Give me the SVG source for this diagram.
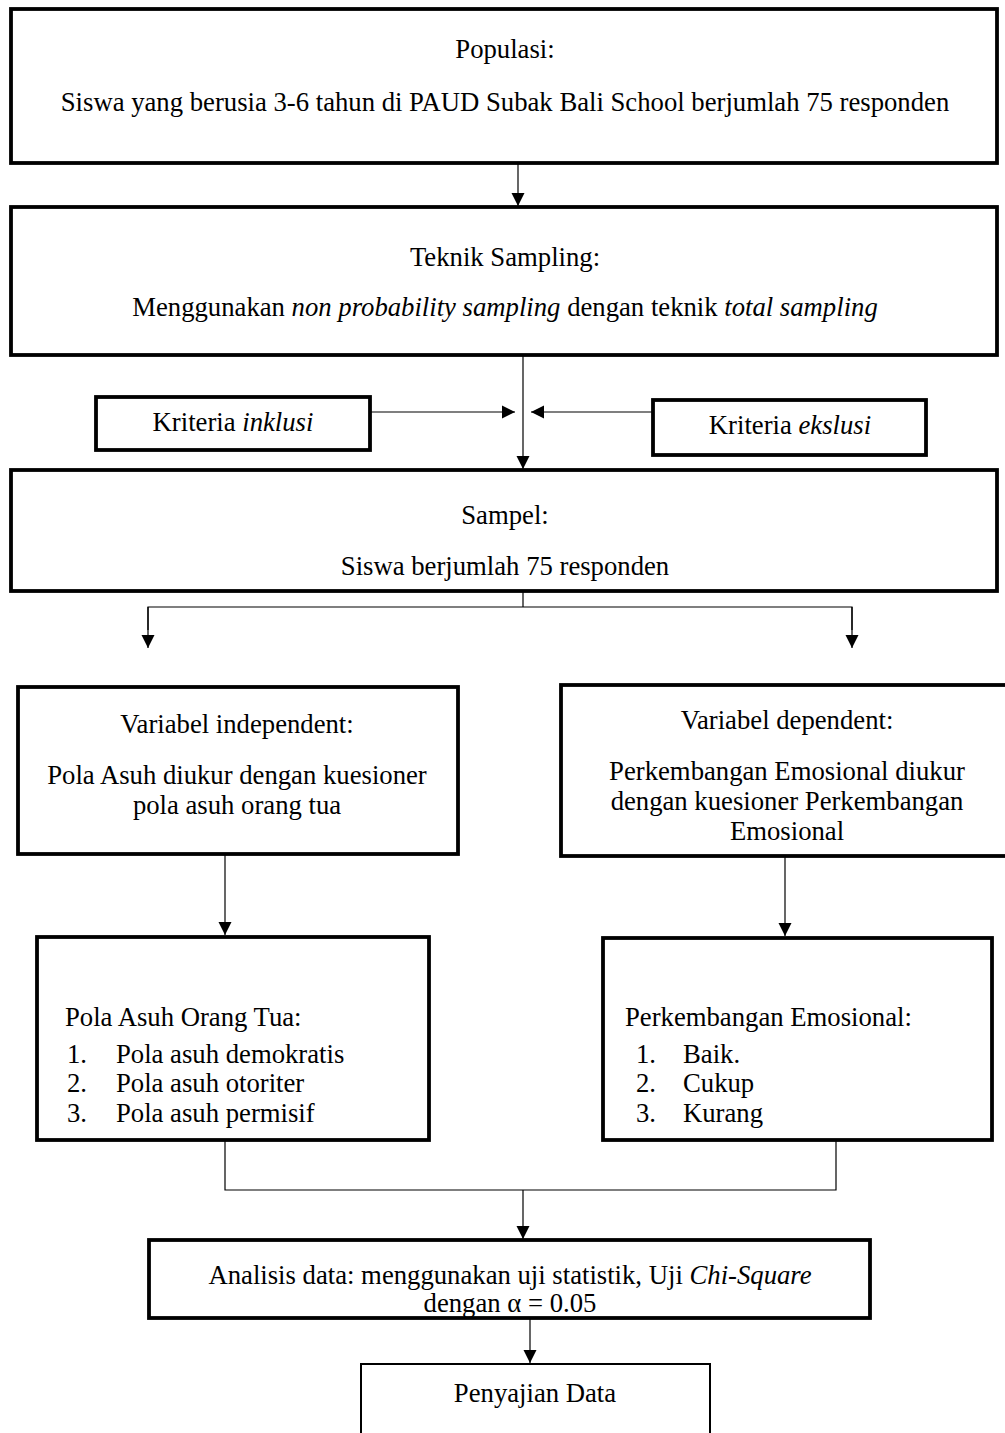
<svg xmlns="http://www.w3.org/2000/svg" width="1005" height="1433" viewBox="0 0 1005 1433">
<defs>
<style>
.box{fill:#fff;stroke:#000;stroke-width:3.8}
.thin{fill:#fff;stroke:#000;stroke-width:2}
.t{font-family:"Liberation Serif","Times New Roman",serif;font-size:26.7px;fill:#000}
.c{text-anchor:middle}
.ln{fill:none;stroke:#000;stroke-width:1.2}
.arr{fill:none;stroke:#000;stroke-width:1.2;marker-end:url(#ah)}
</style>
<marker id="ah" viewBox="0 0 10 10" refX="10" refY="5" markerUnits="userSpaceOnUse" markerWidth="13" markerHeight="14" orient="auto">
<path d="M0,0 L10,5 L0,10 Z" fill="#000"/>
</marker>
</defs>
<rect width="1005" height="1433" fill="#fff"/>
<g id="connectors">
<line class="arr" x1="518" y1="163" x2="518" y2="206"/>
<line class="arr" x1="523" y1="355" x2="523" y2="469"/>
<line class="arr" x1="370" y1="412" x2="515" y2="412"/>
<line class="arr" x1="652" y1="412" x2="531" y2="412"/>
<polyline class="ln" points="148,630 148,607 852,607 852,630"/>
<line class="ln" x1="523" y1="591" x2="523" y2="607"/>
<line class="arr" x1="148" y1="607" x2="148" y2="648"/>
<line class="arr" x1="852" y1="607" x2="852" y2="648"/>
<line class="arr" x1="225" y1="854" x2="225" y2="935"/>
<line class="arr" x1="785" y1="856" x2="785" y2="936"/>
<polyline class="ln" points="225,1140 225,1190 836,1190 836,1140"/>
<line class="arr" x1="523" y1="1190" x2="523" y2="1239"/>
<line class="arr" x1="530" y1="1318" x2="530" y2="1363"/>
</g>
<g id="populasi">
<rect class="box" x="11" y="9" width="986" height="154"/>
<text class="t c" x="505" y="58">Populasi:</text>
<text class="t c" x="505" y="111">Siswa yang berusia 3-6 tahun di PAUD Subak Bali School berjumlah 75 responden</text>
</g>
<g id="teknik">
<rect class="box" x="11" y="207" width="986" height="148"/>
<text class="t c" x="505" y="266">Teknik Sampling:</text>
<text class="t c" x="505" y="316">Menggunakan <tspan font-style="italic">non probability sampling</tspan> dengan teknik <tspan font-style="italic">total sampling</tspan></text>
</g>
<g id="inklusi">
<rect class="box" x="96" y="397" width="274" height="53"/>
<text class="t c" x="233" y="431">Kriteria <tspan font-style="italic">inklusi</tspan></text>
</g>
<g id="ekslusi">
<rect class="box" x="653" y="400" width="273" height="55"/>
<text class="t c" x="790" y="434">Kriteria <tspan font-style="italic">ekslusi</tspan></text>
</g>
<g id="sampel">
<rect class="box" x="11" y="470" width="986" height="121"/>
<text class="t c" x="505" y="524">Sampel:</text>
<text class="t c" x="505" y="575">Siswa berjumlah 75 responden</text>
</g>
<g id="var-independent">
<rect class="box" x="18" y="687" width="440" height="167"/>
<text class="t c" x="237" y="733">Variabel independent:</text>
<text class="t c" x="237" y="784">Pola Asuh diukur dengan kuesioner</text>
<text class="t c" x="237" y="814">pola asuh orang tua</text>
</g>
<g id="var-dependent">
<rect class="box" x="561" y="685" width="450" height="171"/>
<text class="t c" x="787" y="729">Variabel dependent:</text>
<text class="t c" x="787" y="780">Perkembangan Emosional diukur</text>
<text class="t c" x="787" y="810">dengan kuesioner Perkembangan</text>
<text class="t c" x="787" y="840">Emosional</text>
</g>
<g id="pola-asuh">
<rect class="box" x="37" y="937" width="392" height="203"/>
<text class="t" x="65" y="1026">Pola Asuh Orang Tua:</text>
<text class="t" x="67" y="1063">1.</text><text class="t" x="116" y="1063">Pola asuh demokratis</text>
<text class="t" x="67" y="1092">2.</text><text class="t" x="116" y="1092">Pola asuh otoriter</text>
<text class="t" x="67" y="1122">3.</text><text class="t" x="116" y="1122">Pola asuh permisif</text>
</g>
<g id="perkembangan">
<rect class="box" x="603" y="938" width="389" height="202"/>
<text class="t" x="625" y="1026">Perkembangan Emosional:</text>
<text class="t" x="636" y="1063">1.</text><text class="t" x="683" y="1063">Baik.</text>
<text class="t" x="636" y="1092">2.</text><text class="t" x="683" y="1092">Cukup</text>
<text class="t" x="636" y="1122">3.</text><text class="t" x="683" y="1122">Kurang</text>
</g>
<g id="analisis">
<rect class="box" x="149" y="1240" width="721" height="78"/>
<text class="t c" x="510" y="1284">Analisis data: menggunakan uji statistik, Uji <tspan font-style="italic">Chi-Square</tspan></text>
<text class="t c" x="510" y="1312">dengan α = 0.05</text>
</g>
<g id="penyajian">
<rect class="thin" x="361" y="1364" width="349" height="80"/>
<text class="t c" x="535" y="1402">Penyajian Data</text>
</g>
</svg>
